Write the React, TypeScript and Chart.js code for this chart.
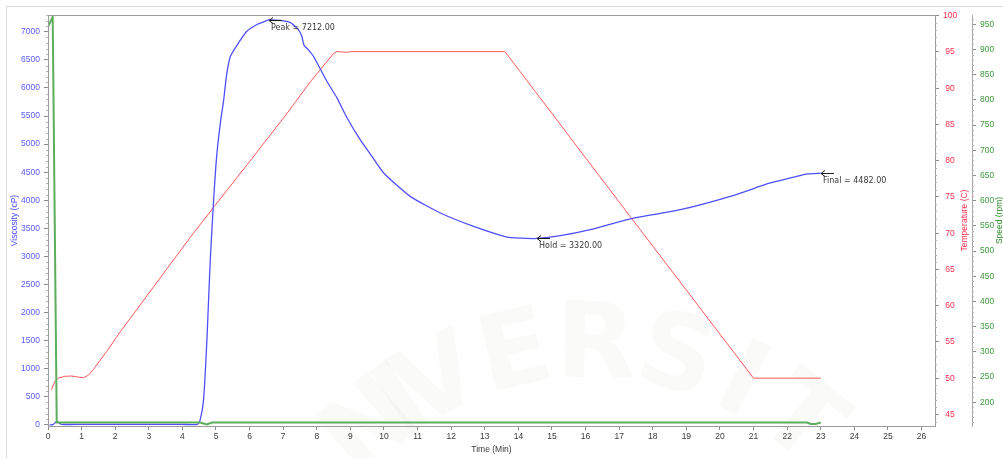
import React, { useEffect, useRef } from "react";
import { Chart, registerables } from "chart.js";

Chart.register(...registerables);

// ---- axis ticks ----
const TIME_TICKS = [0, 1, 2, 3, 4, 5, 6, 7, 8, 9, 10, 11, 12, 13, 14, 15, 16, 17, 18, 19, 20, 21, 22, 23, 24, 25, 26];
const VISC_TICKS = [0, 500, 1000, 1500, 2000, 2500, 3000, 3500, 4000, 4500, 5000, 5500, 6000, 6500, 7000];
const TEMP_TICKS = [45, 50, 55, 60, 65, 70, 75, 80, 85, 90, 95, 100];
const SPEED_TICKS = [200, 250, 300, 350, 400, 450, 500, 550, 600, 650, 700, 750, 800, 850, 900, 950];

// ---- viscosity (cP) ----
const VISC_TIME = [
  0.05, 0.15, 0.25, 0.32, 0.4, 1.0, 2.0, 3.0, 4.0, 4.45, 4.53, 4.63, 4.73, 4.83, 4.93, 5.02, 5.13, 5.23,
  5.32, 5.43, 5.67, 5.92, 6.22, 6.42, 6.57, 6.9, 7.2, 7.45, 7.55, 7.62, 7.75, 7.9, 8.3, 8.6, 8.9, 9.29,
  9.64, 9.99, 10.78, 11.68, 12.67, 13.66, 14.1, 14.55, 15.25, 16.14, 17.33, 18.82, 20.31, 21.5, 22.29,
  22.6, 23.0,
];
const VISC_CP = [
  0, 5, 60, 40, 10, 8, 8, 8, 8, 10, 90, 446, 1515, 2941, 4011, 4783, 5378, 5793,
  6250, 6565, 6804, 7011, 7130, 7178, 7212, 7205, 7170, 7040, 6930, 6760, 6680, 6565, 6120, 5824, 5470, 5080,
  4783, 4487, 4070, 3774, 3535, 3345, 3326, 3320, 3369, 3476, 3667, 3832, 4070, 4308, 4426,
  4470, 4482,
];

// ---- temperature (C) ----
const TEMP_TIME = [
  0.1, 0.2, 0.3, 0.5, 0.7, 0.9, 1.05, 1.2, 1.35, 1.75, 2.15, 4.23, 4.95, 6.07, 7.11, 7.81, 8.5, 8.6,
  8.9, 9.0, 13.6, 17.36, 21.0, 23.0,
];
const TEMP_C = [
  48.4, 49.5, 50.0, 50.25, 50.3, 50.15, 50.05, 50.4, 51.2, 53.7, 56.4, 69.4, 73.7, 80.3, 86.5, 90.9, 94.8, 95.05,
  94.95, 95.05, 95.05, 72.1, 50.0, 50.0,
];

// ---- paddle speed (rpm) ----
const SPEED_TIME = [0.0, 0.14, 0.26, 4.53, 4.63, 4.73, 4.88, 22.6, 22.7, 22.85, 23.0];
const SPEED_RPM = [945, 965, 160, 160, 158, 156, 160, 160, 157, 157, 160];

// ---- marked points ----
const MARK_NAMES = ["Peak", "Hold", "Final"];
const MARK_TIME = [6.57, 14.55, 23.0];
const MARK_CP = [7212, 3320, 4482];

// ---- faint background lettering ----
const WATERMARK_LETTERS = ["N", "I", "V", "E", "R", "S", "I", "T"];
const WATERMARK_ANGLES = [-41, -34, -27, -13, 1, 15, 27, 39];

const BLUE = "rgba(70,70,255,0.95)";
const RED = "#ff5a5a";
const GREEN = "#5cad5c";
const TICK_FONT = { family: "'Liberation Sans', Arial, sans-serif", size: 8.5 };
const plain = (v: any) => String(v);

const pairs = (xs: number[], ys: number[]) => xs.map((x, i) => ({ x, y: ys[i] }));

const watermarkPlugin = {
  id: "watermark",
  beforeDatasetsDraw(chart: any) {
    const { ctx } = chart;
    const cx = 590;
    const cy = 680;
    const r = 330;
    ctx.save();
    ctx.fillStyle = "rgba(140,140,100,0.045)";
    ctx.font = "bold 105px 'DejaVu Sans', sans-serif";
    ctx.textAlign = "center";
    ctx.textBaseline = "middle";
    WATERMARK_LETTERS.forEach((ch, i) => {
      const a = (WATERMARK_ANGLES[i] * Math.PI) / 180;
      ctx.save();
      ctx.translate(cx + r * Math.sin(a), cy - r * Math.cos(a));
      ctx.rotate(a);
      ctx.fillText(ch, 0, 0);
      ctx.restore();
    });
    ctx.restore();
  },
};

const decorPlugin = {
  id: "decor",
  afterDraw(chart: any) {
    const { ctx, chartArea: ca, scales } = chart;
    const xs = scales.x;
    const ys = scales.y;
    const ts = scales.temp;
    const ss = scales.speed;
    ctx.save();

    // plot frame
    ctx.strokeStyle = "#9c9c9c";
    ctx.lineWidth = 1;
    ctx.strokeRect(
      Math.round(ca.left) + 0.5,
      Math.round(ca.top) + 0.5,
      Math.round(ca.right - ca.left),
      Math.round(ca.bottom - ca.top)
    );

    // minor tick marks
    ctx.strokeStyle = "#b4b4b4";
    ctx.beginPath();
    for (let v = 100; v <= 7300; v += 100) {
      if (v % 500 === 0) continue;
      const py = Math.round(ys.getPixelForValue(v)) + 0.5;
      ctx.moveTo(ca.left - 2, py);
      ctx.lineTo(ca.left, py);
    }
    for (let v = 44; v <= 100; v += 1) {
      if (v % 5 === 0) continue;
      const py = Math.round(ts.getPixelForValue(v)) + 0.5;
      ctx.moveTo(ca.right, py);
      ctx.lineTo(ca.right + 2, py);
    }
    for (let v = 160; v <= 960; v += 10) {
      if (v % 50 === 0) continue;
      const py = Math.round(ss.getPixelForValue(v)) + 0.5;
      ctx.moveTo(ss.left, py);
      ctx.lineTo(ss.left + 2, py);
    }
    ctx.stroke();

    // right-hand axis titles, read bottom to top
    const midY = (ca.top + ca.bottom) / 2;
    ctx.font = "8.5px 'Liberation Sans', Arial, sans-serif";
    ctx.textAlign = "center";
    ctx.textBaseline = "middle";
    ctx.save();
    ctx.translate(ts.right - 7, midY);
    ctx.rotate(-Math.PI / 2);
    ctx.fillStyle = "#ff3050";
    ctx.fillText("Temperature (C)", 0, 0);
    ctx.restore();
    ctx.save();
    ctx.translate(ss.left + 28, midY);
    ctx.rotate(-Math.PI / 2);
    ctx.fillStyle = "#2f8f2f";
    ctx.fillText("Speed (rpm)", 0, 0);
    ctx.restore();

    // Peak / Hold / Final markers
    ctx.font = "8px 'DejaVu Sans', Verdana, sans-serif";
    ctx.textAlign = "left";
    ctx.textBaseline = "top";
    MARK_NAMES.forEach((name, i) => {
      const px = Math.round(xs.getPixelForValue(MARK_TIME[i]));
      const py = Math.round(ys.getPixelForValue(MARK_CP[i])) + 0.5;
      ctx.strokeStyle = "#1a1a1a";
      ctx.lineWidth = 1;
      ctx.beginPath();
      ctx.moveTo(px, py);
      ctx.lineTo(px + 13, py);
      ctx.moveTo(px + 4, py - 3);
      ctx.lineTo(px, py);
      ctx.lineTo(px + 4, py + 3);
      ctx.stroke();
      ctx.fillStyle = "#3a3a3a";
      ctx.fillText(`${name} = ${MARK_CP[i].toFixed(2)}`, px + 2, py + 3);
    });
    ctx.restore();
  },
};

export default function App() {
  const canvasRef = useRef<HTMLCanvasElement | null>(null);

  useEffect(() => {
    const canvas = canvasRef.current;
    if (!canvas) return;
    const chart = new Chart(canvas, {
      type: "line",
      data: {
        datasets: [
          {
            label: "Speed",
            data: pairs(SPEED_TIME, SPEED_RPM),
            yAxisID: "speed",
            borderColor: GREEN,
            borderWidth: 2,
            pointRadius: 0,
            tension: 0,
          },
          {
            label: "Viscosity",
            data: pairs(VISC_TIME, VISC_CP),
            yAxisID: "y",
            borderColor: BLUE,
            borderWidth: 1.3,
            pointRadius: 0,
            tension: 0.2,
          },
          {
            label: "Temperature",
            data: pairs(TEMP_TIME, TEMP_C),
            yAxisID: "temp",
            borderColor: RED,
            borderWidth: 1,
            pointRadius: 0,
            tension: 0,
          },
        ],
      },
      options: {
        animation: false,
        responsive: false,
        maintainAspectRatio: false,
        devicePixelRatio: 1,
        layout: { padding: { top: 15, left: 0, right: 0, bottom: 0 } },
        plugins: { legend: { display: false }, tooltip: { enabled: false } },
        scales: {
          x: {
            type: "linear",
            position: "bottom",
            min: 0,
            max: 26.4,
            afterBuildTicks: (s: any) => {
              s.ticks = TIME_TICKS.map((value) => ({ value }));
            },
            afterFit: (s: any) => {
              s.height = 32;
            },
            ticks: { font: TICK_FONT, color: "#3a3a3a", padding: 2, autoSkip: false, maxRotation: 0, callback: plain },
            grid: { drawOnChartArea: false, drawTicks: true, tickLength: 4, color: "#8c8c8c" },
            border: { display: false },
            title: {
              display: true,
              text: "Time (Min)",
              font: TICK_FONT,
              color: "#3a3a3a",
              padding: { top: 0, bottom: 3 },
            },
          },
          y: {
            type: "linear",
            position: "left",
            min: -20,
            max: 7300,
            afterBuildTicks: (s: any) => {
              s.ticks = VISC_TICKS.map((value) => ({ value }));
            },
            afterFit: (s: any) => {
              s.width = 48;
            },
            ticks: { font: TICK_FONT, color: "#5a5aff", padding: 4, autoSkip: false, callback: plain },
            grid: { drawOnChartArea: false, drawTicks: true, tickLength: 4, color: "#8c8c8c" },
            border: { display: false },
            title: {
              display: true,
              text: "Viscosity (cP)",
              font: TICK_FONT,
              color: "#4848ff",
              padding: { top: 10, bottom: 0 },
            },
          },
          temp: {
            type: "linear",
            position: "right",
            min: 43.4,
            max: 100.1,
            afterBuildTicks: (s: any) => {
              s.ticks = TEMP_TICKS.map((value) => ({ value }));
            },
            afterFit: (s: any) => {
              s.width = 37;
            },
            ticks: { font: TICK_FONT, color: "#ff3050", padding: 4, autoSkip: false, crossAlign: "center", callback: plain },
            grid: { drawOnChartArea: false, drawTicks: true, tickLength: 4, color: "#8c8c8c" },
            border: { display: false },
          },
          speed: {
            type: "linear",
            position: "right",
            min: 153,
            max: 968.5,
            afterBuildTicks: (s: any) => {
              s.ticks = SPEED_TICKS.map((value) => ({ value }));
            },
            afterFit: (s: any) => {
              s.width = 40;
            },
            ticks: { font: TICK_FONT, color: "#3f9a3f", padding: 4, autoSkip: false, callback: plain },
            grid: { drawOnChartArea: false, drawTicks: true, tickLength: 4, color: "#8c8c8c" },
            border: { display: true, color: "#a8a8a8" },
          },
        },
      },
      plugins: [watermarkPlugin, decorPlugin],
    } as any);
    return () => chart.destroy();
  }, []);

  return (
    <div
      style={{
        position: "fixed",
        left: 0,
        top: 0,
        width: 1003,
        height: 458,
        overflow: "hidden",
        background: "#ffffff",
      }}
    >
      <div
        style={{
          position: "absolute",
          left: 6,
          top: 6,
          width: 1100,
          height: 600,
          border: "1px solid #dadada",
        }}
      />
      <canvas
        ref={canvasRef}
        width={1012}
        height={458}
        style={{ position: "absolute", left: 0, top: 0, width: 1012, height: 458 }}
      />
    </div>
  );
}
